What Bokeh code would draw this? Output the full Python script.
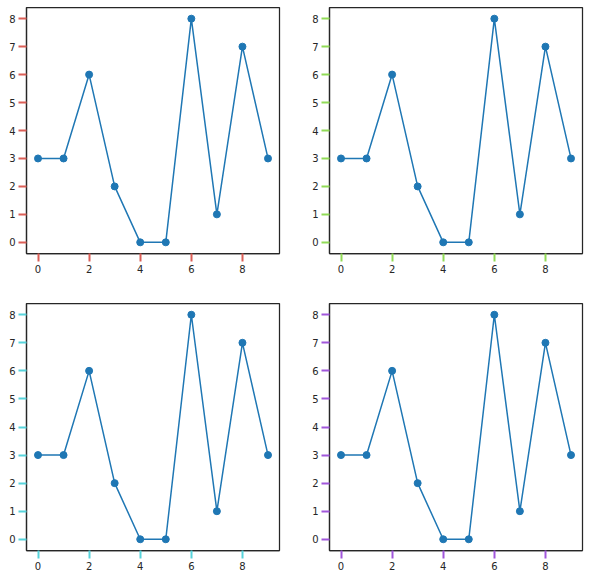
from bokeh.plotting import figure
from bokeh.layouts import column, row
from bokeh.models import Range1d, FixedTicker
from bokeh.embed import file_html
from bokeh.resources import INLINE

x_vals = [0, 1, 2, 3, 4, 5, 6, 7, 8, 9]
y_vals = [3, 3, 6, 2, 0, 0, 8, 1, 7, 3]
x_ticks = [0, 2, 4, 6, 8]
y_ticks = [0, 1, 2, 3, 4, 5, 6, 7, 8]
tick_colors = ["#db5f57", "#91db57", "#57d3db", "#a157db"]

SPINE = "#262626"
LINE = "#1f77b4"

def make(i):
    col = i % 2
    top = i < 2
    if col == 0:
        w, bl, br = 303, 26, 24
    else:
        w, bl, br = 285, 26, 6
    if top:
        h, bt, bb = 283, 7, 30
    else:
        h, bt, bb = 291, 20, 24
    p = figure(width=w, height=h, output_backend="svg", toolbar_location=None,
               x_range=Range1d(-0.45, 9.45), y_range=Range1d(-0.4, 8.4),
               min_border_left=bl, min_border_right=br,
               min_border_top=bt, min_border_bottom=bb)
    p.grid.visible = False
    p.outline_line_color = SPINE
    p.outline_line_width = 1.25
    p.outline_line_alpha = 1
    p.xaxis.ticker = FixedTicker(ticks=x_ticks)
    p.yaxis.ticker = FixedTicker(ticks=y_ticks)
    for ax in (p.xaxis[0], p.yaxis[0]):
        ax.axis_line_color = SPINE
        ax.axis_line_width = 1.25
        ax.major_tick_in = 0
        ax.major_tick_out = 8
        ax.major_tick_line_width = 2
        ax.major_tick_line_color = tick_colors[i]
        ax.minor_tick_line_color = None
        ax.major_label_text_font = "DejaVu Sans"
        ax.major_label_text_font_size = "10px"
        ax.major_label_text_color = SPINE
        ax.major_label_standoff = 3
    p.line(x_vals, y_vals, line_color=LINE, line_width=1.5)
    p.scatter(x_vals, y_vals, size=7, fill_color=LINE, line_color=LINE)
    return p

figs = [make(i) for i in range(4)]
layout = column(row(figs[0], figs[1]), row(figs[2], figs[3]))

open("out.html", "w").write(file_html(layout, INLINE))
